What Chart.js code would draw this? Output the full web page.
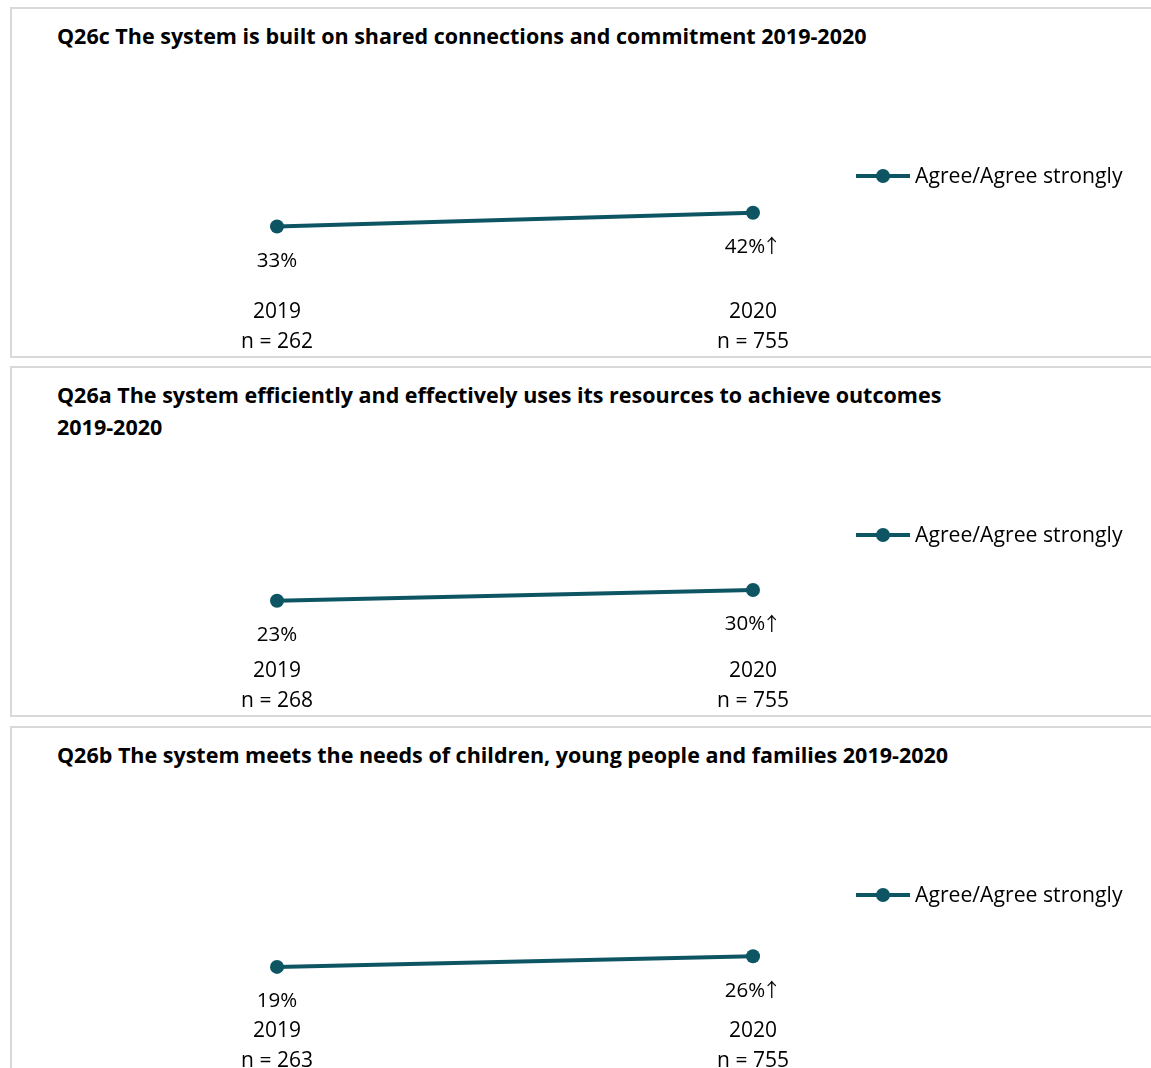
<!DOCTYPE html>
<html>
<head>
<meta charset="utf-8">
<script src="https://cdn.jsdelivr.net/npm/chart.js@4.4.0/dist/chart.umd.min.js"></script>
<style>
  body { margin: 0; background: #fff; width: 1151px; height: 1068px; overflow: hidden; position: relative; font-family: "Open Sans", "Liberation Sans", sans-serif; }
  .panel { position: absolute; left: 10px; width: 1150px; height: 351px; box-sizing: border-box; border: 2px solid #d9d9d9; overflow: hidden; }
  .panel .title { position: absolute; left: 45px; top: 11px; font-weight: bold; font-size: 21.5px; line-height: 32px; color: #000; white-space: nowrap; }
  .panel canvas { position: absolute; left: 0; top: 2px; }
</style>
</head>
<body>
  <div class="panel" style="top:7px">
    <div class="title">Q26c The system is built on shared connections and commitment 2019-2020</div>
    <canvas id="chartC" width="1146" height="367"></canvas>
  </div>
  <div class="panel" style="top:366px">
    <div class="title">Q26a The system efficiently and effectively uses its resources to achieve outcomes<br>2019-2020</div>
    <canvas id="chartA" width="1146" height="367"></canvas>
  </div>
  <div class="panel" style="top:726px">
    <div class="title">Q26b The system meets the needs of children, young people and families 2019-2020</div>
    <canvas id="chartB" width="1146" height="367"></canvas>
  </div>
<script>
const years = ["2019", "2020"];
const seriesName = "Agree/Agree strongly";

const q26cValues = [33, 42];
const q26cN = [262, 755];
const q26cSig = [false, true];

const q26aValues = [23, 30];
const q26aN = [268, 755];
const q26aSig = [false, true];

const q26bValues = [19, 26];
const q26bN = [263, 755];
const q26bSig = [false, true];

const teal = "#0e5564";
const fontFamily = '"Open Sans", "Liberation Sans", sans-serif';
const arrowFont = '"Noto Sans CJK SC", "DejaVu Sans", sans-serif';

// value labels under each point, with an arrow for significant change
const valueLabels = {
  id: "valueLabels",
  afterDatasetsDraw(chart) {
    const ctx = chart.ctx;
    chart.data.datasets.forEach((ds, di) => {
      const meta = chart.getDatasetMeta(di);
      meta.data.forEach((pt, i) => {
        const txt = ds.data[i] + "%";
        const arrow = ds.sig && ds.sig[i] ? "\u2191" : "";
        ctx.save();
        ctx.fillStyle = "#000";
        ctx.textBaseline = "middle";
        ctx.textAlign = "left";
        ctx.font = "20.5px " + fontFamily;
        const w1 = ctx.measureText(txt).width;
        ctx.font = "19px " + arrowFont;
        const w2 = arrow ? ctx.measureText(arrow).width - 3 : 0;
        const x0 = pt.x - (w1 + w2) / 2;
        ctx.font = "20.5px " + fontFamily;
        ctx.fillText(txt, x0, pt.y + 34.5);
        if (arrow) {
          ctx.font = "19px " + arrowFont;
          ctx.fillText(arrow, x0 + w1 - 3, pt.y + 33.5);
        }
        ctx.restore();
      });
    });
  }
};

// legend drawn as line + marker, like the source
const lineLegend = {
  id: "lineLegend",
  afterDraw(chart, args, opts) {
    const ctx = chart.ctx;
    const ds = chart.data.datasets[0];
    ctx.save();
    ctx.strokeStyle = ds.borderColor;
    ctx.lineWidth = ds.borderWidth;
    ctx.beginPath();
    ctx.moveTo(opts.x, opts.y);
    ctx.lineTo(opts.x + 54, opts.y);
    ctx.stroke();
    ctx.fillStyle = ds.borderColor;
    ctx.beginPath();
    ctx.arc(opts.x + 27, opts.y, ds.pointRadius, 0, Math.PI * 2);
    ctx.fill();
    ctx.font = "21.2px " + fontFamily;
    ctx.fillStyle = "#000";
    ctx.textBaseline = "middle";
    ctx.fillText(ds.label, opts.x + 59, opts.y + 1);
    ctx.restore();
  }
};

function makeChart(id, values, ns, sig) {
  return new Chart(document.getElementById(id), {
    type: "line",
    data: {
      labels: years.map((y, i) => [y, "n = " + ns[i]]),
      datasets: [{
        label: seriesName,
        data: values,
        sig: sig,
        borderColor: teal,
        backgroundColor: teal,
        borderWidth: 4,
        pointRadius: 7,
        pointHoverRadius: 7,
        pointBorderWidth: 0
      }]
    },
    options: {
      responsive: false,
      animation: false,
      layout: { padding: { left: 27, right: 167, top: 113, bottom: 1 } },
      plugins: {
        legend: { display: false },
        tooltip: { enabled: false },
        lineLegend: { x: 844, y: 165 }
      },
      scales: {
        x: {
          offset: true,
          grid: { display: false, drawTicks: false },
          border: { display: false },
          ticks: { color: "#000", padding: 20, maxRotation: 0, font: { family: fontFamily, size: 21, lineHeight: 1.43 } }
        },
        y: { display: false, min: 0, max: 100 }
      }
    },
    plugins: [valueLabels, lineLegend]
  });
}

makeChart("chartC", q26cValues, q26cN, q26cSig);
makeChart("chartA", q26aValues, q26aN, q26aSig);
makeChart("chartB", q26bValues, q26bN, q26bSig);
</script>
</body>
</html>
